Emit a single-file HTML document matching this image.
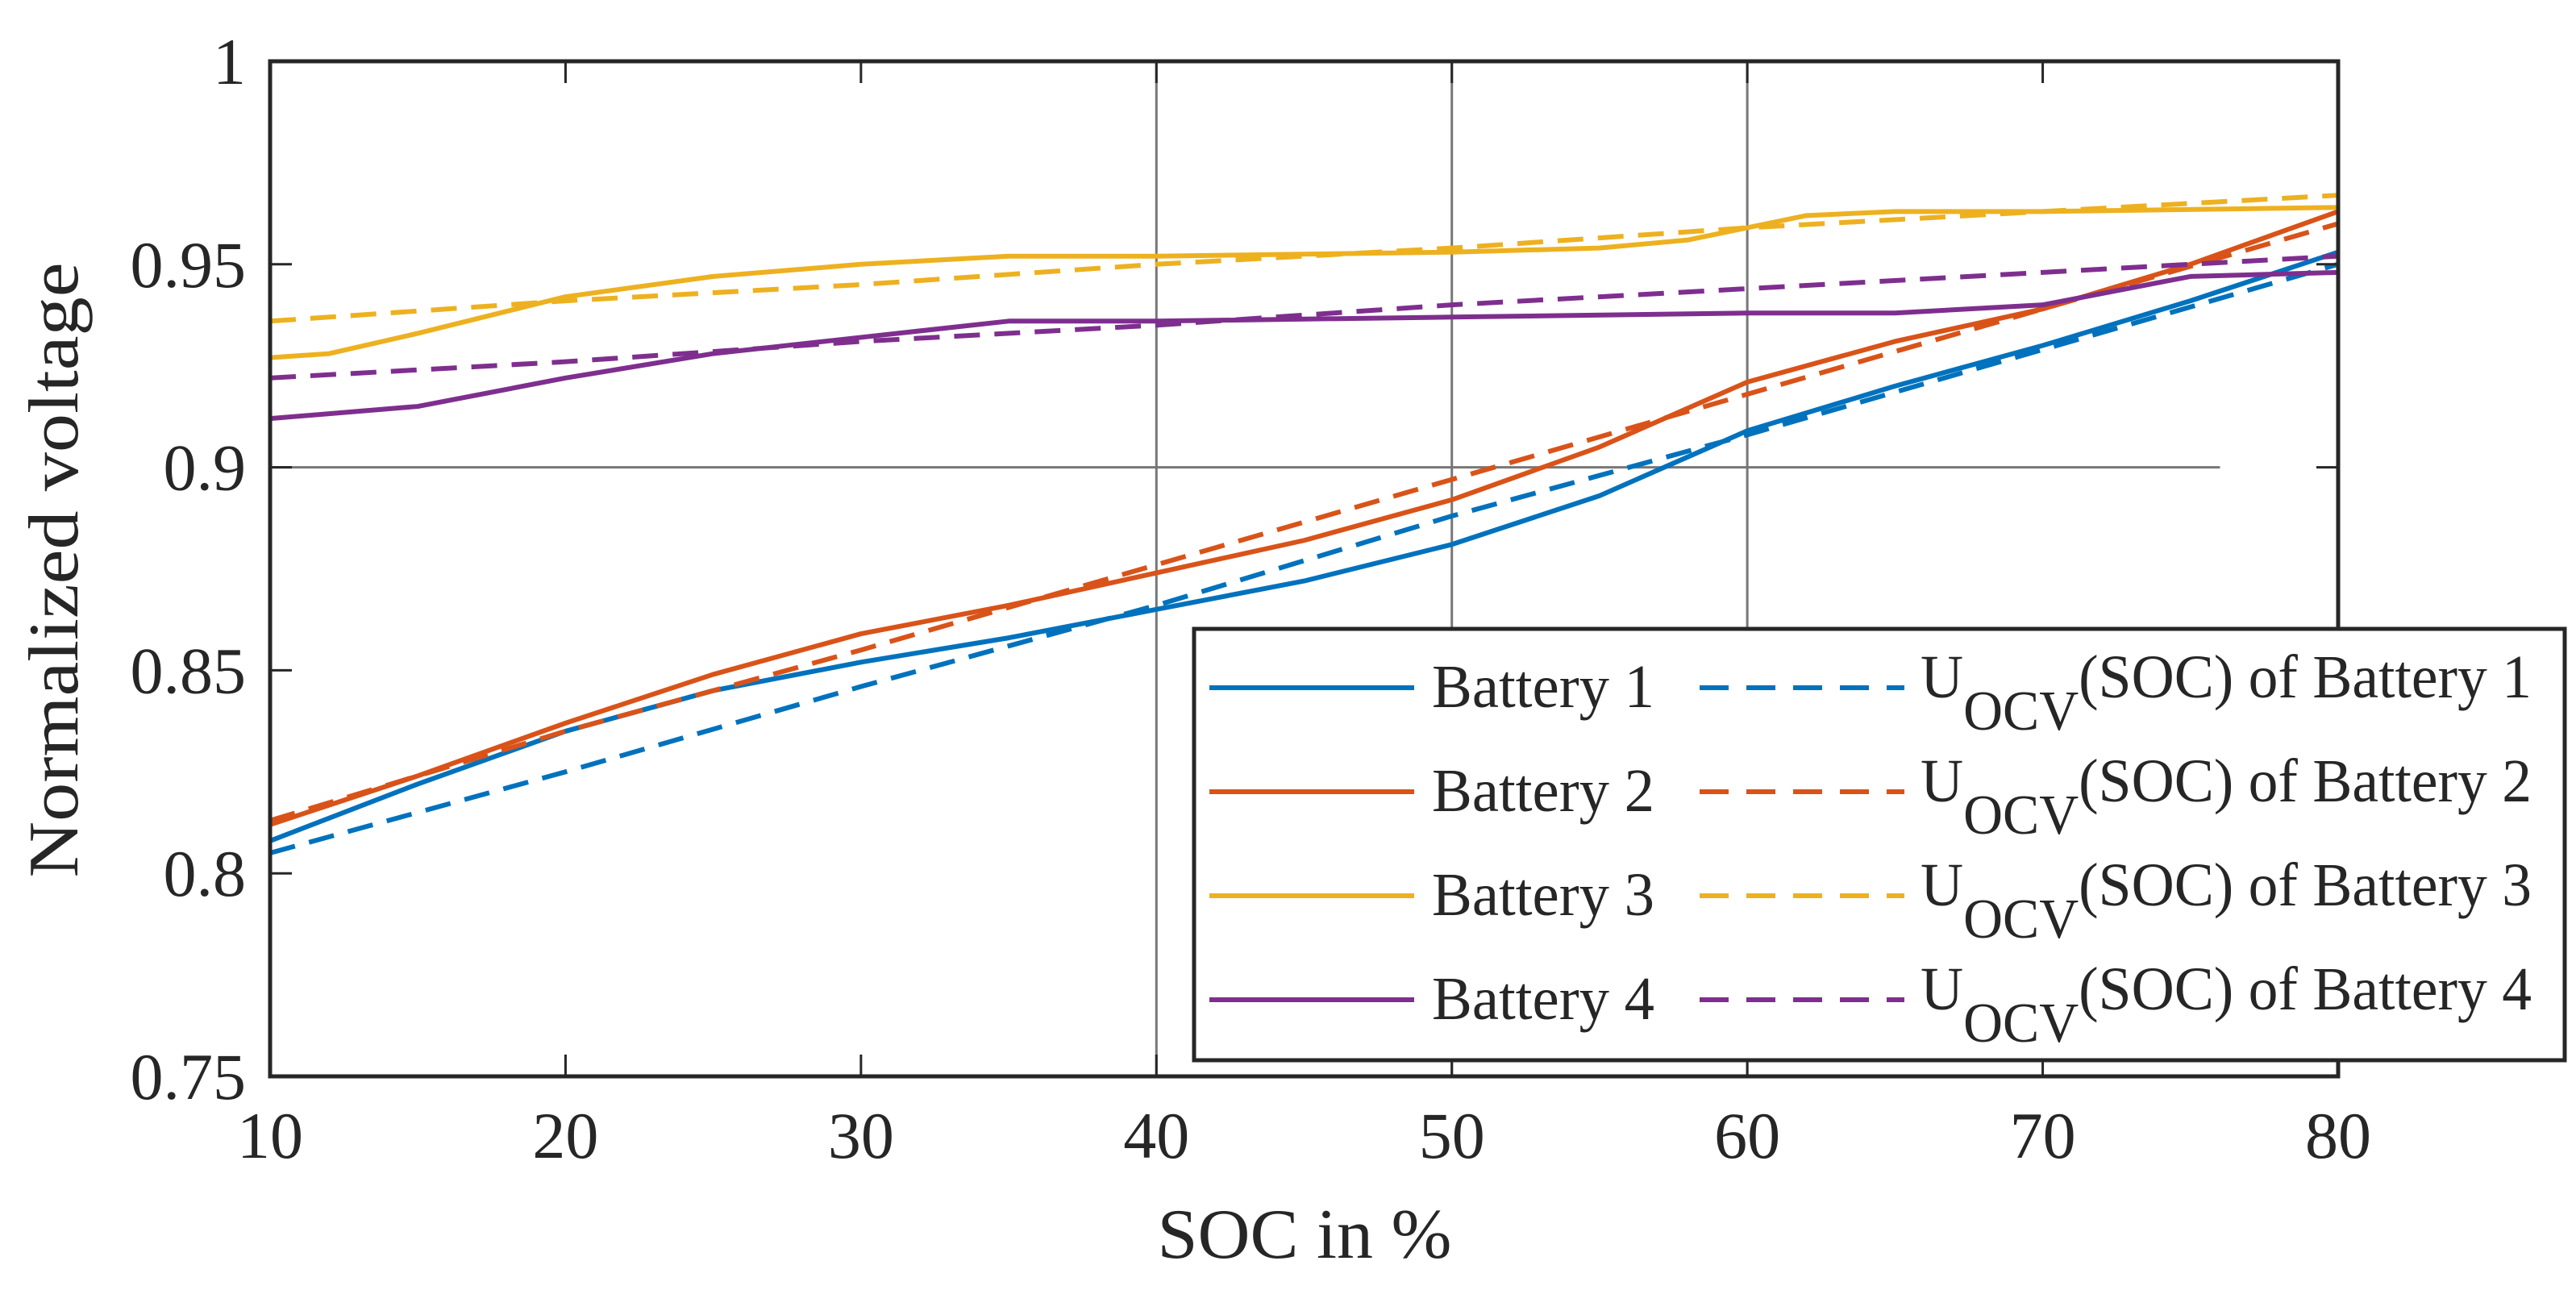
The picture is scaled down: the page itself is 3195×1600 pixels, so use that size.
<!DOCTYPE html>
<html><head><meta charset="utf-8"><style>
html,body{margin:0;padding:0;background:#fff;}
svg{display:block;}
text{font-family:"Liberation Serif",serif;fill:#262626;}
</style></head><body>
<svg id="chart" width="3195" height="1600" viewBox="0 0 3195 1600">
<g id="grid"></g>
<g id="series"></g>
<g id="axes"></g>
<text x="76" y="707" font-size="88" text-anchor="middle" textLength="763" lengthAdjust="spacingAndGlyphs" transform="rotate(-90 76 707)" dominant-baseline="middle">Normalized voltage</text>
<text x="1618" y="1560" font-size="88" text-anchor="middle" textLength="365" lengthAdjust="spacingAndGlyphs">SOC in %</text>
<g id="legend"></g>
</svg>
<script>
const xTicks=[10,20,30,40,50,60,70,80];
const yTicks=[0.75,0.8,0.85,0.9,0.95,1];
const yTickLabels=["0.75","0.8","0.85","0.9","0.95","1"];
const b1x=[10,15,20,25,30,35,40,45,50,55,60,65,70,75,80];
const b1y=[0.808,0.822,0.835,0.845,0.852,0.858,0.865,0.872,0.881,0.893,0.909,0.920,0.930,0.941,0.953];
const o1x=[10,20,30,40,50,60,70,80];
const o1y=[0.805,0.825,0.846,0.866,0.888,0.908,0.929,0.950];
const b2x=[10,15,20,25,30,35,40,45,50,55,60,65,70,75,80];
const b2y=[0.812,0.824,0.837,0.849,0.859,0.866,0.874,0.882,0.892,0.905,0.921,0.931,0.939,0.950,0.963];
const o2x=[10,20,30,40,50,60,70,80];
const o2y=[0.813,0.835,0.855,0.876,0.897,0.918,0.939,0.960];
const b3x=[10,12,15,20,25,30,35,40,50,55,58,60,62,65,70,80];
const b3y=[0.927,0.928,0.933,0.942,0.947,0.950,0.952,0.952,0.953,0.954,0.956,0.959,0.962,0.963,0.963,0.964];
const o3x=[10,20,30,40,50,60,70,80];
const o3y=[0.936,0.941,0.945,0.950,0.954,0.959,0.963,0.967];
const b4x=[10,15,20,25,30,35,40,50,60,65,70,75,80];
const b4y=[0.912,0.915,0.922,0.928,0.932,0.936,0.936,0.937,0.938,0.938,0.940,0.947,0.948];
const o4x=[10,20,30,40,50,60,70,80];
const o4y=[0.922,0.926,0.931,0.935,0.940,0.944,0.948,0.952];
const vGrid=[40,50,60];
const hGrid=[0.9];
const hGridEnd=76;
const legendLabels=["Battery 1","Battery 2","Battery 3","Battery 4"];

const NS="http://www.w3.org/2000/svg";
const L=335,R=2900,T=76,B=1335;
const xMin=10,xMax=80,yMin=0.75,yMax=1;
const sx=v=>L+(v-xMin)/(xMax-xMin)*(R-L);
const sy=v=>B-(v-yMin)/(yMax-yMin)*(B-T);
function mk(tag,attrs,parent){const e=document.createElementNS(NS,tag);for(const k in attrs)e.setAttribute(k,attrs[k]);parent.appendChild(e);return e;}
const grid=document.getElementById('grid'),series=document.getElementById('series'),axes=document.getElementById('axes'),legend=document.getElementById('legend');

vGrid.forEach(v=>{const l=mk('line',{x1:sx(v),x2:sx(v),y1:T,y2:B,stroke:'#777','stroke-width':3},grid);

});
hGrid.forEach(v=>{const l=mk('line',{x1:L,x2:sx(hGridEnd),y1:sy(v),y2:sy(v),stroke:'#777','stroke-width':3},grid);

});

const colors=['#0072BD','#D95319','#EDB120','#7E2F8E'];
const sets=[[b1x,b1y,o1x,o1y],[b2x,b2y,o2x,o2y],[b3x,b3y,o3x,o3y],[b4x,b4y,o4x,o4y]];
sets.forEach((s,i)=>{
  const ptsS=s[0].map((x,j)=>sx(x)+','+sy(s[1][j])).join(' ');
  const ptsD=s[2].map((x,j)=>sx(x)+','+sy(s[3][j])).join(' ');
  const d=mk('polyline',{points:ptsD,fill:'none',stroke:colors[i],'stroke-width':6,'stroke-dasharray':'32 18'},series);
  
  
  const p=mk('polyline',{points:ptsS,fill:'none',stroke:colors[i],'stroke-width':6,'stroke-linejoin':'round'},series);
  
  
});

const frame=mk('rect',{x:L,y:T,width:R-L,height:B-T,fill:'none',stroke:'#262626','stroke-width':5},axes);


xTicks.forEach(v=>{
  mk('line',{x1:sx(v),x2:sx(v),y1:B,y2:B-27,stroke:'#262626','stroke-width':3},axes);
  mk('line',{x1:sx(v),x2:sx(v),y1:T,y2:T+27,stroke:'#262626','stroke-width':3},axes);
  const t=mk('text',{x:sx(v),y:1436,'font-size':82,'text-anchor':'middle'},axes);
  t.textContent=String(v);
  
  
});
yTicks.forEach((v,i)=>{
  mk('line',{x1:L,x2:L+27,y1:sy(v),y2:sy(v),stroke:'#262626','stroke-width':3},axes);
  mk('line',{x1:R,x2:R-27,y1:sy(v),y2:sy(v),stroke:'#262626','stroke-width':3},axes);
  const t=mk('text',{x:305,y:sy(v)+28,'font-size':82,'text-anchor':'end'},axes);
  t.textContent=yTickLabels[i];
  
  
});

const box=mk('rect',{x:1481,y:780,width:1700,height:535,fill:'#fff',stroke:'#262626','stroke-width':5},legend);


legendLabels.forEach((lab,i)=>{
  const y=853+i*129;
  const g=mk('g',{},legend);
  
  
  mk('line',{x1:1500,x2:1754,y1:y,y2:y,stroke:colors[i],'stroke-width':6},g);
  const t=mk('text',{x:1776,y:y+24,'font-size':76,textLength:276,lengthAdjust:'spacingAndGlyphs'},g);
  t.textContent=lab;
  const g2=mk('g',{},legend);
  
  
  mk('line',{x1:2108,x2:2362,y1:y,y2:y,stroke:colors[i],'stroke-width':6,'stroke-dasharray':'36 22'},g2);
  const t2=mk('text',{x:2382,y:y+12,'font-size':76,textLength:758,lengthAdjust:'spacingAndGlyphs'},g2);
  const a=mk('tspan',{},t2);a.textContent='U';
  const b=mk('tspan',{dy:40,'font-size':70},t2);b.textContent='OCV';
  const c=mk('tspan',{dy:-40},t2);c.textContent='(SOC) of '+lab;
});
</script>
</body></html>
